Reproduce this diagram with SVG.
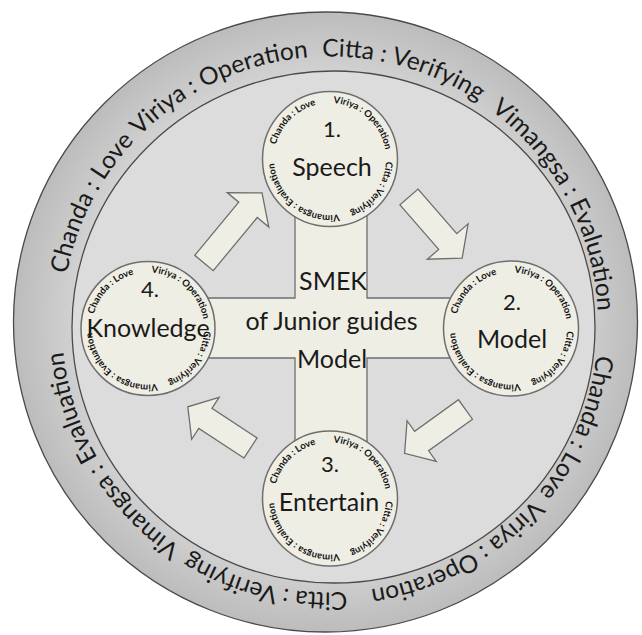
<svg xmlns="http://www.w3.org/2000/svg" xmlns:xlink="http://www.w3.org/1999/xlink" width="642" height="635" viewBox="0 0 642 635">
<style>
.ring{fill:url(#ringGrad);stroke:#4a4a4a;stroke-width:1.3}
.disc{fill:#dcdcdc;stroke:#4a4a4a;stroke-width:1.3}
.cream{fill:#efeee4;stroke:#6e6e6e;stroke-width:1.3}
.node{fill:#efeee4;stroke:#6e6e6e;stroke-width:1.5}
.big{font-family:Lato,"Open Sans",sans-serif;font-size:24.5px;fill:#1a1a1a;text-anchor:middle}
.small{font-family:Lato,"Open Sans",sans-serif;font-size:9.5px;font-weight:bold;fill:#111;text-anchor:middle}
.lbl{font-family:Lato,"Open Sans",sans-serif;font-size:25px;fill:#1a1a1a;text-anchor:middle}
.num{font-size:22px}
</style>
<defs>
<radialGradient id="ringGrad" cx="0.5" cy="0.5" r="0.5">
<stop offset="0.8" stop-color="#d2d2d2"/>
<stop offset="1" stop-color="#bcbcbc"/>
</radialGradient>
<path id="outerPath" d="M62,324.5 A268,268 0 1 1 598,324.5 A268,268 0 1 1 62,324.5"/>
<path id="sp" d="M-56,0 A56,56 0 1 1 56,0 A56,56 0 1 1 -56,0"/>
</defs>
<rect width="642" height="635" fill="#ffffff"/>
<g id="frame">
<ellipse class="ring" cx="325.5" cy="322" rx="312" ry="310"/>
<ellipse class="disc" cx="333.5" cy="327" rx="261.5" ry="256"/>
<text class="big"><textPath href="#outerPath" startOffset="7.5%">Chanda : Love</textPath></text>
<text class="big"><textPath href="#outerPath" startOffset="18.06%">Viriya : Operation</textPath></text>
<text class="big"><textPath href="#outerPath" startOffset="29.44%">Citta : Verifying</textPath></text>
<text class="big"><textPath href="#outerPath" startOffset="42.22%">Vimangsa : Evaluation</textPath></text>
<text class="big"><textPath href="#outerPath" startOffset="56.3%">Chanda : Love</textPath></text>
<text class="big"><textPath href="#outerPath" startOffset="66.94%">Viriya : Operation</textPath></text>
<text class="big"><textPath href="#outerPath" startOffset="78.89%">Citta : Verifying</textPath></text>
<text class="big"><textPath href="#outerPath" startOffset="91.39%">Vimangsa : Evaluation</textPath></text>
</g>
<g id="center">
<polygon class="cream" points="295,200 367,200 367,298 470,298 470,358 367,358 367,460 295,460 295,358 190,358 190,298 295,298"/>
<text class="lbl" x="333" y="290">SMEK</text>
<text class="lbl" x="331.5" y="330">of Junior guides</text>
<text class="lbl" x="332" y="368">Model</text>
</g>
<g id="connectors">
<polygon class="cream" transform="translate(204,263) rotate(-50.4)" points="0,-12 69,-12 69,-27 91,0 69,27 69,12 0,12"/>
<polygon class="cream" transform="translate(409,197) rotate(49)" points="0,-12 59,-12 59,-27 81,0 59,27 59,12 0,12"/>
<polygon class="cream" transform="translate(465.5,409.5) rotate(144.3)" points="0,-12 54,-12 54,-25 75,0 54,25 54,12 0,12"/>
<polygon class="cream" transform="translate(250.5,448) rotate(213.3)" points="0,-12 54,-12 54,-25 75,0 54,25 54,12 0,12"/>
</g>
<g id="node1" transform="translate(330,159)">
<circle class="node" r="67.5"/>
<text class="small"><textPath href="#sp" startOffset="12.5%">Chanda : Love</textPath></text>
<text class="small"><textPath href="#sp" startOffset="36.67%">Viriya : Operation</textPath></text>
<text class="small"><textPath href="#sp" startOffset="60%">Citta : Verifying</textPath></text>
<text class="small"><textPath href="#sp" startOffset="85.56%">Vimangsa : Evaluation</textPath></text>
<text class="lbl num" x="2" y="-22">1.</text>
<text class="lbl" x="2" y="17">Speech</text>
</g>
<g id="node2" transform="translate(511,328.5)">
<circle class="node" r="67.5"/>
<text class="small"><textPath href="#sp" startOffset="12.5%">Chanda : Love</textPath></text>
<text class="small"><textPath href="#sp" startOffset="36.67%">Viriya : Operation</textPath></text>
<text class="small"><textPath href="#sp" startOffset="60%">Citta : Verifying</textPath></text>
<text class="small"><textPath href="#sp" startOffset="85.56%">Vimangsa : Evaluation</textPath></text>
<text class="lbl num" x="1" y="-18.5">2.</text>
<text class="lbl" x="1" y="19.5">Model</text>
</g>
<g id="node3" transform="translate(330,498.5)">
<circle class="node" r="67.5"/>
<text class="small"><textPath href="#sp" startOffset="12.5%">Chanda : Love</textPath></text>
<text class="small"><textPath href="#sp" startOffset="36.67%">Viriya : Operation</textPath></text>
<text class="small"><textPath href="#sp" startOffset="60%">Citta : Verifying</textPath></text>
<text class="small"><textPath href="#sp" startOffset="85.56%">Vimangsa : Evaluation</textPath></text>
<text class="lbl num" x="0" y="-26.5">3.</text>
<text class="lbl" x="-1" y="12.5">Entertain</text>
</g>
<g id="node4" transform="translate(148,328.5)">
<circle class="node" r="67"/>
<text class="small"><textPath href="#sp" startOffset="12.5%">Chanda : Love</textPath></text>
<text class="small"><textPath href="#sp" startOffset="36.67%">Viriya : Operation</textPath></text>
<text class="small"><textPath href="#sp" startOffset="60%">Citta : Verifying</textPath></text>
<text class="small"><textPath href="#sp" startOffset="85.56%">Vimangsa : Evaluation</textPath></text>
<text class="lbl num" x="2" y="-31.5">4.</text>
<text class="lbl" x="0" y="8.5">Knowledge</text>
</g>
</svg>
